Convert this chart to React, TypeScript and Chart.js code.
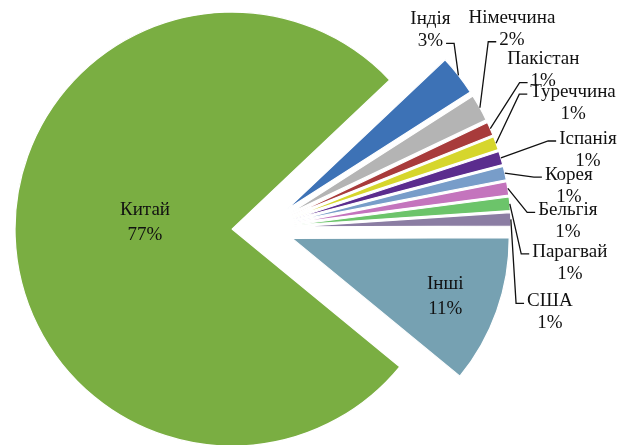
import React, { useEffect, useRef } from 'react';
import { Chart, registerables } from 'chart.js';

Chart.register(...registerables);

// ---- data ----
const categories = ['Індія', 'Німеччина', 'Пакістан', 'Туреччина', 'Іспанія', 'Корея', 'Бельгія', 'Парагвай', 'США', 'Інші', 'Китай'];
const shares = [3, 2, 1, 1, 1, 1, 1, 1, 1, 11, 77];
const percentLabels = ['3%', '2%', '1%', '1%', '1%', '1%', '1%', '1%', '1%', '11%', '77%'];

// ---- styles ----
const colors = ['#3d72b6', '#b4b4b4', '#a83b3b', '#d6d62c', '#5b2c8e', '#789dc9', '#c474bd', '#6cc46a', '#8b7da3', '#76a1b2', '#7aae42'];
const EXPLODE = 31;
const RADIUS = 217;
const FONT = '19px "Liberation Serif", serif';
// label placement: inside labels offset from the slice apex, outside labels offset from the leader anchor
const labelLayout: any[] = [
  { inside: false, dx: -28, dy: -45, side: 'right', line: 1 },
  { inside: false, dx: 32, dy: -79, side: 'left', line: 1 },
  { inside: false, dx: 53, dy: -59, side: 'left', line: 1 },
  { inside: false, dx: 77, dy: -40, side: 'left', line: 0 },
  { inside: false, dx: 87, dy: -8, side: 'left', line: 0 },
  { inside: false, dx: 64, dy: 13, side: 'left', line: 0 },
  { inside: false, dx: 60, dy: 33, side: 'left', line: 0 },
  { inside: false, dx: 60, dy: 59, side: 'left', line: 0 },
  { inside: false, dx: 39, dy: 93, side: 'left', line: 0 },
  { inside: true, dx: 153, dy: 58 },
  { inside: true, dx: -87, dy: -7 },
];

const explodePlugin = {
  id: 'explodeSlices',
  afterDatasetsUpdate(chart: any) {
    const meta = chart.getDatasetMeta(0);
    meta.data.forEach((el: any) => {
      const mid = (el.startAngle + el.endAngle) / 2;
      el.x += Math.cos(mid) * EXPLODE;
      el.y += Math.sin(mid) * EXPLODE;
    });
  },
};

const labelPlugin = {
  id: 'sliceLabels',
  afterDatasetsDraw(chart: any) {
    const ctx = chart.ctx;
    const meta = chart.getDatasetMeta(0);
    ctx.save();
    ctx.font = FONT;
    ctx.fillStyle = '#111';
    ctx.strokeStyle = '#111';
    ctx.lineWidth = 1.3;
    ctx.textAlign = 'center';
    ctx.textBaseline = 'middle';
    meta.data.forEach((el: any, i: number) => {
      const lay = labelLayout[i];
      const lines = [categories[i], percentLabels[i]];
      if (lay.inside) {
        const cx = el.x + lay.dx;
        const cy = el.y + lay.dy;
        const lh = 25;
        ctx.fillText(lines[0], cx, cy - lh / 2);
        ctx.fillText(lines[1], cx, cy + lh / 2);
        return;
      }
      const mid = (el.startAngle + el.endAngle) / 2;
      const ax = el.x + Math.cos(mid) * el.outerRadius;
      const ay = el.y + Math.sin(mid) * el.outerRadius;
      const cx = ax + lay.dx;
      const cy = ay + lay.dy;
      const lh = 22;
      const y0 = cy - lh / 2;
      const y1 = cy + lh / 2;
      ctx.fillText(lines[0], cx, y0);
      ctx.fillText(lines[1], cx, y1);
      const ly = (lay.line === 0 ? y0 : y1) + 2;
      const w = ctx.measureText(lines[lay.line]).width;
      let ex, bx;
      if (lay.side === 'left') {
        ex = cx - w / 2 - 3;
        bx = ex - 8;
      } else {
        ex = cx + w / 2 + 3;
        bx = ex + 8;
      }
      ctx.beginPath();
      ctx.moveTo(ax, ay);
      ctx.lineTo(bx, ly);
      ctx.lineTo(ex, ly);
      ctx.stroke();
    });
    ctx.restore();
  },
};

export default function App() {
  const ref = useRef<HTMLCanvasElement>(null);
  useEffect(() => {
    if (!ref.current) return;
    const chart = new Chart(ref.current, {
      type: 'pie',
      data: {
        labels: categories,
        datasets: [
          {
            data: shares,
            backgroundColor: colors,
            borderColor: '#ffffff',
            borderWidth: 1.2,
            clip: false as any,
          } as any,
        ],
      },
      options: {
        responsive: false,
        animation: false,
        devicePixelRatio: 1,
        events: [],
        rotation: 46.6,
        radius: RADIUS,
        layout: { padding: { left: 0, right: 95, top: 11, bottom: 0 } },
        plugins: { legend: { display: false }, tooltip: { enabled: false } },
      } as any,
      plugins: [explodePlugin, labelPlugin],
    });
    return () => chart.destroy();
  }, []);
  return (
    <div style={{ position: 'fixed', left: 0, top: 0, width: 621, height: 445, background: '#fff' }}>
      <canvas ref={ref} width={621} height={445} style={{ width: 621, height: 445 }} />
    </div>
  );
}
